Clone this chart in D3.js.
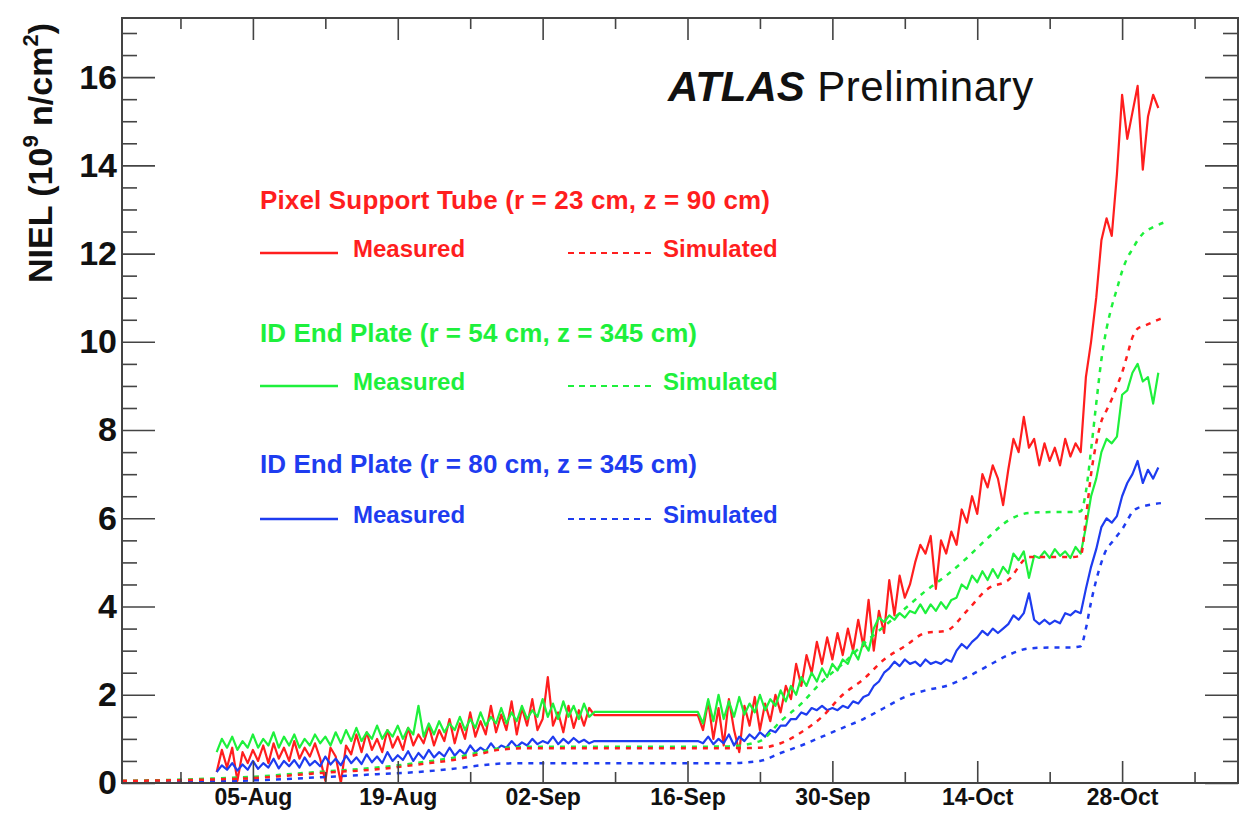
<!DOCTYPE html>
<html>
<head>
<meta charset="utf-8">
<script src="https://cdn.jsdelivr.net/npm/d3@7"></script>
<style>
  html, body { margin: 0; padding: 0; background: #fff; }
  text { font-family: "Liberation Sans", Arial, Helvetica, sans-serif; }
</style>
</head>
<body>
<div id="chart"></div>
<script>
// =======================
// Data (day index 0 = 01-Aug-2010, UTC)
// =======================
const measStepDays = 0.5;
const measStartA = 0.5;   // first block, up to ~07-Sep
const measStartB = 47.0;  // second block, from ~17-Sep

const pixelMeasA = [
  0.25, 0.75, 0.35, 0.8, 0.05, 0.7, 0.45, 0.75, 0.5, 0.85,
  0.45, 0.9, 0.55, 0.8, 0.5, 0.95, 0.55, 0.8, 0.6, 0.9,
  0.55, 0.05, 0.8, 0.6, 0.0, 0.85, 0.65, 1.1, 0.7, 1.15,
  0.75, 1.0, 0.7, 1.2, 0.8, 1.05, 0.75, 1.25, 0.85, 1.1,
  0.9, 1.3, 0.85, 1.2, 0.95, 1.45, 0.9, 1.35, 1.0, 1.6,
  1.05, 1.4, 1.1, 1.75, 1.15, 1.55, 1.2, 1.85, 1.1, 1.7,
  1.3, 1.9, 1.2, 1.45, 2.4, 1.3, 1.6, 1.15, 1.75, 1.25,
  1.65, 1.3, 1.7, 1.54
];
const pixelMeasB = [
  1.54, 1.2, 1.85, 1.0, 1.7, 0.85, 1.9, 1.2, 0.7, 1.75,
  1.3, 1.95, 1.2, 1.8, 1.4, 2.0, 1.6, 2.2, 1.9, 2.7,
  2.2, 2.9, 2.5, 3.2, 2.7, 3.3, 2.8, 3.4, 2.9, 3.5,
  3.0, 3.7, 3.1, 4.15, 3.0, 3.9, 3.4, 4.6, 3.8, 4.7,
  4.2, 4.5, 5.0, 5.4, 5.2, 5.6, 4.4, 5.5, 5.2, 5.7,
  5.4, 6.2, 5.9, 6.5, 6.1, 7.0, 6.7, 7.2, 6.9, 6.3,
  7.1, 7.8, 7.5, 8.3, 7.6, 7.8, 7.2, 7.7, 7.3, 7.6,
  7.2, 7.8, 7.4, 7.7, 7.5, 9.2, 10.0, 11.0, 12.3, 12.8,
  12.4, 13.8, 15.6, 14.6, 15.2, 15.8, 13.9, 15.1, 15.6, 15.3
];

const plate54MeasA = [
  0.7, 1.0, 0.8, 1.05, 0.75, 0.95, 0.8, 1.1, 0.8, 1.0,
  0.85, 1.15, 0.8, 1.05, 0.85, 1.1, 0.8, 1.0, 0.85, 1.1,
  0.9, 1.05, 0.85, 1.15, 0.9, 1.2, 0.95, 1.25, 0.95, 1.15,
  1.0, 1.3, 1.0, 1.2, 1.05, 1.3, 1.0, 1.25, 1.1, 1.75,
  1.05, 1.35, 1.1, 1.4, 1.15, 1.35, 1.2, 1.5, 1.2, 1.45,
  1.25, 1.6, 1.3, 1.5, 1.35, 1.7, 1.35, 1.6, 1.4, 1.75,
  1.45, 1.65, 1.5, 1.9, 1.5, 1.8, 1.45, 1.85, 1.5, 1.75,
  1.45, 1.8, 1.5, 1.61
];
const plate54MeasB = [
  1.61, 1.35, 1.9, 1.4, 2.0, 1.45, 1.85, 1.5, 1.95, 1.55,
  1.8, 1.6, 2.0, 1.65, 1.9, 1.75, 2.1, 1.85, 2.2, 2.0,
  2.4, 2.2, 2.5, 2.3, 2.6, 2.4, 2.7, 2.55, 2.8, 2.7,
  3.0, 2.8, 3.2, 3.0, 3.5, 3.75, 3.65, 3.8, 3.7, 3.85,
  3.75, 3.9, 3.85, 4.05, 3.85, 4.05, 3.9, 4.1, 3.95, 4.15,
  4.2, 4.5, 4.4, 4.7, 4.55, 4.8, 4.6, 4.85, 4.65, 4.9,
  4.75, 5.2, 5.05, 5.25, 4.65, 5.15, 5.1, 5.25, 5.1, 5.3,
  5.15, 5.25, 5.1, 5.35, 5.2, 5.8, 6.5, 6.9, 7.5, 7.8,
  7.7, 7.85, 8.8, 8.9, 9.3, 9.5, 9.1, 9.2, 8.6, 9.3
];

const plate80MeasA = [
  0.25, 0.4, 0.3, 0.45, 0.28, 0.42, 0.3, 0.5, 0.32, 0.45,
  0.35, 0.55, 0.33, 0.5, 0.38, 0.52, 0.35, 0.58, 0.4, 0.5,
  0.38, 0.6, 0.42, 0.55, 0.4, 0.62, 0.45, 0.58, 0.43, 0.65,
  0.47, 0.6, 0.45, 0.7, 0.5, 0.63, 0.52, 0.72, 0.5, 0.68,
  0.55, 0.75, 0.58, 0.7, 0.6, 0.8, 0.62, 0.75, 0.65, 0.85,
  0.7, 0.8, 0.72, 0.9, 0.75, 0.85, 0.8, 0.95, 0.82, 0.92,
  0.85, 1.0, 0.88, 0.95, 0.9, 1.05, 0.88, 1.0, 0.9, 1.02,
  0.92, 0.98, 0.9, 0.95
];
const plate80MeasB = [
  0.95, 0.9, 1.05, 0.88, 1.0, 0.9, 1.1, 0.85, 1.05, 0.95,
  1.1, 1.0, 1.15, 1.05, 1.2, 1.15, 1.3, 1.3, 1.45, 1.45,
  1.6, 1.55, 1.7, 1.65, 1.75, 1.65, 1.7, 1.65, 1.75, 1.7,
  1.85, 1.8, 1.95, 2.0, 2.2, 2.3, 2.5, 2.6, 2.75, 2.65,
  2.8, 2.7, 2.75, 2.65, 2.8, 2.7, 2.75, 2.7, 2.8, 2.75,
  3.0, 3.15, 3.05, 3.2, 3.3, 3.45, 3.35, 3.5, 3.4, 3.5,
  3.6, 3.8, 3.7, 3.85, 4.3, 3.7, 3.6, 3.7, 3.6, 3.68,
  3.62, 3.85, 3.8, 3.9, 3.85, 4.4, 4.9, 5.3, 5.8, 6.0,
  5.9, 6.05, 6.5, 6.8, 7.0, 7.3, 6.8, 7.1, 6.9, 7.15
];

// simulated curves share the same knots
const simDays = [
  -8.65, -4, 0, 4, 8, 12, 16, 20, 24, 26,
  28, 31, 35, 40, 45, 50, 53, 55, 57, 59,
  61, 63, 65, 67, 69, 71, 73, 75, 77, 79,
  81, 83, 84, 84.5, 85, 85.5, 86, 86.5, 87, 87.5,
  88, 88.5, 89, 89.5, 90, 91, 92
];
const pixelSim = [
  0.05, 0.06, 0.08, 0.11, 0.18, 0.25, 0.31, 0.42, 0.55, 0.66,
  0.76, 0.79, 0.79, 0.79, 0.79, 0.79, 0.8, 0.9, 1.15, 1.5,
  2.0, 2.35, 2.8, 3.1, 3.4, 3.45, 3.9, 4.4, 4.6, 5.12,
  5.12, 5.12, 5.15, 6.0, 7.0, 7.7, 8.2, 8.45, 8.7, 9.0,
  9.3, 9.7, 10.1, 10.3, 10.35, 10.45, 10.55
];
const plate54Sim = [
  0.05, 0.07, 0.1, 0.14, 0.21, 0.28, 0.35, 0.46, 0.6, 0.7,
  0.79, 0.82, 0.82, 0.82, 0.82, 0.83, 0.95, 1.4, 1.8, 2.3,
  2.7, 3.15, 3.55, 3.95, 4.35, 4.7, 5.1, 5.55, 5.95, 6.12,
  6.14, 6.14, 6.16, 6.6, 7.55, 8.6, 9.6, 10.3, 10.8, 11.2,
  11.6, 11.9, 12.1, 12.3, 12.45, 12.6, 12.7
];
const plate80Sim = [
  0.02, 0.03, 0.04, 0.06, 0.1, 0.15, 0.2, 0.25, 0.34, 0.4,
  0.44, 0.45, 0.45, 0.45, 0.45, 0.45, 0.5, 0.68, 0.85, 1.05,
  1.25, 1.45, 1.7, 1.95, 2.1, 2.2, 2.4, 2.65, 2.9, 3.05,
  3.07, 3.07, 3.1, 3.5, 4.1, 4.6, 5.0, 5.3, 5.45, 5.6,
  5.75, 5.95, 6.15, 6.23, 6.27, 6.32, 6.35
];

const yMajorTicks = [0, 2, 4, 6, 8, 10, 12, 14, 16];
const yMinorTicks = d3.range(0.5, 17.3, 0.5).filter(v => v % 2 !== 0);
const xMajorTickDates = ["2010-08-05", "2010-08-19", "2010-09-02", "2010-09-16", "2010-09-30", "2010-10-14", "2010-10-28"];
const xMinorTickDates = ["2010-07-29", "2010-08-12", "2010-08-26", "2010-09-09", "2010-09-23", "2010-10-07", "2010-10-21", "2010-11-04"];

const headings = [
  "Pixel Support Tube (r = 23 cm, z = 90 cm)",
  "ID End Plate (r = 54 cm, z = 345 cm)",
  "ID End Plate (r = 80 cm, z = 345 cm)"
];
const colors = ["#ff1e1e", "#1ef03c", "#1e3cf0"];

// =======================
// Layout
// =======================
const width = 1241, height = 813;
const frame = { left: 122, right: 1238, top: 18, bottom: 783 };
const DAY = 864e5;
const origin = Date.UTC(2010, 7, 1);
const day = t => new Date(origin + t * DAY);
const parse = d3.utcParse("%Y-%m-%d");

const svg = d3.select("#chart").append("svg")
    .attr("width", width)
    .attr("height", height);

const x = d3.scaleUtc()
    .domain([day(-8.65), day(99.2)])
    .range([frame.left, frame.right]);
const y = d3.scaleLinear()
    .domain([0, 17.34])
    .range([frame.bottom, frame.top]);

svg.append("clipPath").attr("id", "clip")
  .append("rect")
    .attr("x", frame.left).attr("y", frame.top)
    .attr("width", frame.right - frame.left)
    .attr("height", frame.bottom - frame.top);

// =======================
// Series
// =======================
function measured(a, b) {
    const pa = a.map((v, i) => ({ t: measStartA + i * measStepDays, v }));
    const pb = b.map((v, i) => ({ t: measStartB + i * measStepDays, v }));
    return pa.concat(pb);
}
const sim = vals => vals.map((v, i) => ({ t: simDays[i], v }));

const measLines = [
    measured(pixelMeasA, pixelMeasB),
    measured(plate54MeasA, plate54MeasB),
    measured(plate80MeasA, plate80MeasB)
];
const simLines = [sim(pixelSim), sim(plate54Sim), sim(plate80Sim)];

const line = d3.line().x(d => x(day(d.t))).y(d => y(d.v));
const smooth = d3.line().x(d => x(day(d.t))).y(d => y(d.v)).curve(d3.curveMonotoneX);

const plot = svg.append("g").attr("clip-path", "url(#clip)");

measLines.forEach((pts, i) => {
    plot.append("path")
        .attr("d", line(pts))
        .attr("fill", "none")
        .attr("stroke", colors[i])
        .attr("stroke-width", 2.2)
        .attr("stroke-linejoin", "round");
});

[2, 1, 0].forEach(i => {
    plot.append("path")
        .attr("d", smooth(simLines[i]))
        .attr("fill", "none")
        .attr("stroke", colors[i])
        .attr("stroke-width", 2.5)
        .attr("stroke-dasharray", "5,6");
});

// =======================
// Axes & frame
// =======================
const axisColor = "#444";
function styleAxis(g) {
    g.select(".domain").remove();
    g.attr("color", axisColor)
     .attr("font-family", "'Liberation Sans', Arial, sans-serif")
     .attr("font-weight", "bold");
    g.selectAll(".tick line").attr("stroke-width", 1.6);
    g.selectAll(".tick text").attr("fill", "#111");
}

const majorDates = xMajorTickDates.map(parse);
const minorDates = xMinorTickDates.map(parse);

svg.append("g").attr("transform", `translate(0,${frame.bottom})`)
    .call(d3.axisBottom(x).tickValues(majorDates).tickSize(-22).tickPadding(6)
        .tickFormat(d3.utcFormat("%d-%b")))
    .attr("font-size", 23)
    .call(styleAxis);
svg.append("g").attr("transform", `translate(0,${frame.bottom})`)
    .call(d3.axisBottom(x).tickValues(minorDates).tickSize(-11).tickFormat(""))
    .call(styleAxis);
svg.append("g").attr("transform", `translate(0,${frame.top})`)
    .call(d3.axisTop(x).tickValues(majorDates).tickSize(-22).tickFormat(""))
    .call(styleAxis);
svg.append("g").attr("transform", `translate(0,${frame.top})`)
    .call(d3.axisTop(x).tickValues(minorDates).tickSize(-11).tickFormat(""))
    .call(styleAxis);

svg.append("g").attr("transform", `translate(${frame.left},0)`)
    .call(d3.axisLeft(y).tickValues(yMajorTicks).tickSize(-33).tickPadding(5))
    .attr("font-size", 34)
    .call(styleAxis);
svg.append("g").attr("transform", `translate(${frame.left},0)`)
    .call(d3.axisLeft(y).tickValues(yMinorTicks).tickSize(-15).tickFormat(""))
    .call(styleAxis);
svg.append("g").attr("transform", `translate(${frame.right},0)`)
    .call(d3.axisRight(y).tickValues(yMajorTicks).tickSize(-33).tickFormat(""))
    .call(styleAxis);
svg.append("g").attr("transform", `translate(${frame.right},0)`)
    .call(d3.axisRight(y).tickValues(yMinorTicks).tickSize(-15).tickFormat(""))
    .call(styleAxis);

svg.append("rect")
    .attr("x", frame.left).attr("y", frame.top)
    .attr("width", frame.right - frame.left)
    .attr("height", frame.bottom - frame.top)
    .attr("fill", "none")
    .attr("stroke", axisColor)
    .attr("stroke-width", 2);

// y title with superscripts
const yTitle = svg.append("text")
    .attr("transform", "rotate(-90)")
    .attr("x", -153).attr("y", 52)
    .attr("text-anchor", "middle")
    .attr("font-size", 34)
    .attr("font-weight", "bold")
    .attr("fill", "#111");
yTitle.append("tspan").text("NIEL (10");
yTitle.append("tspan").attr("dy", -14).attr("font-size", 22).text("9");
yTitle.append("tspan").attr("dy", 14).text(" n/cm");
yTitle.append("tspan").attr("dy", -14).attr("font-size", 22).text("2");
yTitle.append("tspan").attr("dy", 14).text(")");

// ATLAS label
const atlas = svg.append("text")
    .attr("x", 668).attr("y", 101)
    .attr("font-size", 42)
    .attr("fill", "#111");
atlas.append("tspan").attr("font-weight", "bold").attr("font-style", "italic").text("ATLAS");
atlas.append("tspan").attr("letter-spacing", 0.6).text(" Preliminary");

// =======================
// Legend
// =======================
const legendHeadY = [209, 342, 473];
const legendRowY = [257, 390, 523];
const legendHeadW = [510, 437, 437];

headings.forEach((h, i) => {
    const g = svg.append("g").attr("fill", colors[i]).attr("font-weight", "bold");
    g.append("text")
        .attr("x", 260).attr("y", legendHeadY[i])
        .attr("font-size", 26)
        .attr("textLength", legendHeadW[i])
        .attr("lengthAdjust", "spacing")
        .text(h);
    const ly = legendRowY[i] - 4;
    g.append("line")
        .attr("x1", 260).attr("x2", 338).attr("y1", ly).attr("y2", ly)
        .attr("stroke", colors[i]).attr("stroke-width", 2.5);
    g.append("text")
        .attr("x", 353).attr("y", legendRowY[i])
        .attr("font-size", 24)
        .text("Measured");
    g.append("line")
        .attr("x1", 568).attr("x2", 653).attr("y1", ly).attr("y2", ly)
        .attr("stroke", colors[i]).attr("stroke-width", 2)
        .attr("stroke-dasharray", "6,5");
    g.append("text")
        .attr("x", 663).attr("y", legendRowY[i])
        .attr("font-size", 24)
        .text("Simulated");
});
</script>
</body>
</html>
